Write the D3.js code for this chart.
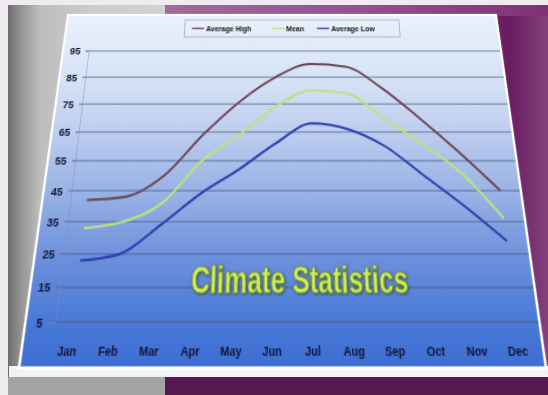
<!DOCTYPE html>
<html>
<head>
<meta charset="utf-8">
<script src="https://cdn.jsdelivr.net/npm/d3@7"></script>
<style>
  html, body { margin: 0; padding: 0; background: #efebf0; overflow: hidden; }
  #stage { position: relative; width: 548px; height: 395px; }
  #bg { position: absolute; left: 0; top: 0; }
  #panel { position: absolute; left: 0; top: 0; transform-origin: 0 0; overflow: visible; }
  text { font-family: "Liberation Sans", Arial, sans-serif; }
</style>
</head>
<body>
<div id="stage">
  <svg id="bg" width="548" height="395"></svg>
  <svg id="panel"></svg>
</div>
<script>
// ---- data ----
const months = ["Jan", "Feb", "Mar", "Apr", "May", "Jun", "Jul", "Aug", "Sep", "Oct", "Nov", "Dec"];
const avgHigh  = [42, 43, 50, 64, 76, 85, 90, 89, 81, 70, 58, 45];
const meanTemp = [33, 35, 41, 55, 64, 74, 80, 79, 70, 61, 51, 36];
const avgLow   = [23, 25, 34, 44, 52, 61, 68, 66, 60, 50, 40, 29];
const yTicks = [5, 15, 25, 35, 45, 55, 65, 75, 85, 95];
const seriesNames = ["Average High", "Mean", "Average Low"];
const chartTitle = "Climate Statistics";

// ---- styling ----
const seriesColors = ["#6b4957", "#bde27a", "#2c40b0"];
const series = [
  { name: seriesNames[0], values: avgHigh,  color: seriesColors[0] },
  { name: seriesNames[1], values: meanTemp, color: seriesColors[1] },
  { name: seriesNames[2], values: avgLow,   color: seriesColors[2] }
];

// ---- backdrop behind the tilted card ----
const bg = d3.select("#bg");
const bdefs = bg.append("defs");

const grayGrad = bdefs.append("linearGradient").attr("id", "grayGrad")
  .attr("x1", 0).attr("x2", 1).attr("y1", 0).attr("y2", 0);
[[0, "#6c6c6c"], [0.07, "#8e8e8e"], [0.2, "#bdbdbd"], [0.5, "#cbcbcb"], [1, "#d2d2d2"]]
  .forEach(([o, c]) => grayGrad.append("stop").attr("offset", o).attr("stop-color", c));

const purpleGrad = bdefs.append("linearGradient").attr("id", "purpleGrad")
  .attr("x1", 0).attr("x2", 1).attr("y1", 0).attr("y2", 0);
[[0, "#8a4583"], [0.8, "#74246a"], [0.9, "#6a1c61"], [1, "#83427d"]]
  .forEach(([o, c]) => purpleGrad.append("stop").attr("offset", o).attr("stop-color", c));

const stripGrad = bdefs.append("linearGradient").attr("id", "stripGrad")
  .attr("x1", 0).attr("x2", 1).attr("y1", 0).attr("y2", 0);
[[0, "#a26a9d"], [0.5, "#94528e"], [1, "#7e3275"]]
  .forEach(([o, c]) => stripGrad.append("stop").attr("offset", o).attr("stop-color", c));

bg.append("rect").attr("width", 548).attr("height", 395).attr("fill", "#efebf0");
bg.append("rect").attr("x", 165).attr("y", 5).attr("width", 383).attr("height", 390).attr("fill", "url(#purpleGrad)");
bg.append("rect").attr("x", 165).attr("y", 5).attr("width", 383).attr("height", 11).attr("fill", "url(#stripGrad)");
bg.append("rect").attr("x", 8).attr("y", 5).attr("width", 157).attr("height", 390).attr("fill", "url(#grayGrad)");
bg.append("rect").attr("x", 165).attr("y", 377).attr("width", 383).attr("height", 18).attr("fill", "#571850");
bg.append("rect").attr("x", 8).attr("y", 377).attr("width", 157).attr("height", 18).attr("fill", "#a4a4a4");
bg.append("rect").attr("x", 9).attr("y", 366).attr("width", 539).attr("height", 11).attr("fill", "#f3f3f6");

// ---- perspective card: flat drawing mapped onto a trapezoid ----
const W = 428, H = 284;
const quad = [[68, 15], [496, 15], [546, 368], [19, 368]];

function squareToQuad(q) {
  const [[x0, y0], [x1, y1], [x2, y2], [x3, y3]] = q;
  const dx1 = x1 - x2, dx2 = x3 - x2, dx3 = x0 - x1 + x2 - x3;
  const dy1 = y1 - y2, dy2 = y3 - y2, dy3 = y0 - y1 + y2 - y3;
  const den = dx1 * dy2 - dx2 * dy1;
  const g = (dx3 * dy2 - dx2 * dy3) / den;
  const h = (dx1 * dy3 - dx3 * dy1) / den;
  return [[x1 - x0 + g * x1, x3 - x0 + h * x3, x0],
          [y1 - y0 + g * y1, y3 - y0 + h * y3, y0],
          [g, h, 1]];
}
function inv3(m) {
  const [[a, b, c], [d, e, f], [g, h, i]] = m;
  const A = e * i - f * h, B = -(d * i - f * g), C = d * h - e * g;
  const D = -(b * i - c * h), E = a * i - c * g, F = -(a * h - b * g);
  const G = b * f - c * e, Hh = -(a * f - c * d), I = a * e - b * d;
  const det = a * A + b * B + c * C;
  return [[A / det, D / det, G / det], [B / det, E / det, Hh / det], [C / det, F / det, I / det]];
}
const M = squareToQuad(quad);
const Minv = inv3(M);
// page position -> flat card position
function toFlat(x, y) {
  const u = Minv[0][0] * x + Minv[0][1] * y + Minv[0][2];
  const v = Minv[1][0] * x + Minv[1][1] * y + Minv[1][2];
  const w = Minv[2][0] * x + Minv[2][1] * y + Minv[2][2];
  return [u / w * W, v / w * H];
}

const panel = d3.select("#panel").attr("width", W).attr("height", H);
panel.style("transform",
  `matrix3d(${M[0][0] / W},${M[1][0] / W},0,${M[2][0] / W},` +
  `${M[0][1] / H},${M[1][1] / H},0,${M[2][1] / H},` +
  `0,0,1,0,${M[0][2]},${M[1][2]},0,1)`);

const defs = panel.append("defs");
const cardGrad = defs.append("linearGradient").attr("id", "cardGrad")
  .attr("gradientUnits", "userSpaceOnUse").attr("x1", 0).attr("x2", 0).attr("y1", 0).attr("y2", H);
[[0, "#eaf1fb"], [0.2, "#d8e4f6"], [0.38, "#bdcdee"], [0.58, "#93aee4"], [0.73, "#6d90dc"], [0.88, "#4b7bd7"], [1, "#3c6dd2"]]
  .forEach(([o, c]) => cardGrad.append("stop").attr("offset", o).attr("stop-color", c));

const titleShadow = defs.append("filter").attr("id", "titleShadow")
  .attr("x", "-10%").attr("y", "-30%").attr("width", "120%").attr("height", "160%");
titleShadow.append("feDropShadow").attr("dx", 0.8).attr("dy", 0.8).attr("stdDeviation", 0.8)
  .attr("flood-color", "#2f3d18").attr("flood-opacity", 0.75);

panel.append("rect").attr("width", W).attr("height", H)
  .attr("fill", "url(#cardGrad)")
  .attr("stroke", "#ffffff").attr("stroke-width", 2.2);

// ---- scales ----
const yBottom = toFlat(0, 322)[1];
const yTop = toFlat(0, 51)[1];
const y = d3.scaleLinear().domain([5, 95]).range([yBottom, yTop]);
const x = d3.scalePoint().domain(months).range([0.093 * W, 0.957 * W]);
const axisX = 25;

// gridlines
panel.append("g").selectAll("line").data(yTicks).join("line")
  .attr("x1", axisX - 3).attr("x2", W - 1)
  .attr("y1", d => y(d)).attr("y2", d => y(d))
  .attr("stroke", "#4b5f8e").attr("stroke-opacity", 0.6).attr("stroke-width", 1.4);

// y axis
const yAxis = panel.append("g").attr("transform", `translate(${axisX},0)`)
  .call(d3.axisLeft(y).tickValues(yTicks).tickSize(3).tickPadding(4));
yAxis.select(".domain").attr("stroke", "#7c8fbb").attr("stroke-opacity", 0.6).attr("stroke-width", 0.8);
yAxis.selectAll(".tick line").attr("stroke", "#7c8fbb").attr("stroke-opacity", 0.6);
yAxis.selectAll(".tick text")
  .attr("text-anchor", "middle").attr("x", -13)
  .style("font-family", "'Liberation Sans', Arial, sans-serif")
  .style("font-size", "9.5px").style("font-weight", "bold").attr("fill", "#121232");

// x axis labels
const labelY = toFlat(0, 352)[1];
const xAxis = panel.append("g").attr("transform", `translate(0,${labelY - 4})`)
  .call(d3.axisBottom(x).tickSize(0).tickPadding(0));
xAxis.select(".domain").remove();
xAxis.selectAll(".tick text")
  .attr("dx", -3)
  .style("font-family", "'Liberation Sans', Arial, sans-serif")
  .style("font-size", "9px").style("font-weight", "bold").attr("fill", "#111133");

// series lines
const line = d3.line()
  .x((d, i) => x(months[i]))
  .y(d => y(d))
  .curve(d3.curveMonotoneX);
panel.append("g").selectAll("path").data(series).join("path")
  .attr("d", d => line(d.values))
  .attr("fill", "none")
  .attr("stroke", d => d.color)
  .attr("stroke-width", 2)
  .attr("stroke-linejoin", "round");

// legend
const legendTL = toFlat(185, 20), legendBR = toFlat(400, 37);
const legend = panel.append("g");
legend.append("rect")
  .attr("x", legendTL[0]).attr("y", legendTL[1])
  .attr("width", legendBR[0] - legendTL[0]).attr("height", legendBR[1] - legendTL[1])
  .attr("fill", "none").attr("stroke", "#8d96a8").attr("stroke-width", 0.6);
const legendStarts = [toFlat(192, 28)[0], toFlat(272, 28)[0], toFlat(317, 28)[0]];
const legendMid = (legendTL[1] + legendBR[1]) / 2;
const items = legend.selectAll("g.item").data(series).join("g").attr("class", "item")
  .attr("transform", (d, i) => `translate(${legendStarts[i]},${legendMid})`);
items.append("line").attr("x1", 0).attr("x2", 12).attr("y1", 0).attr("y2", 0)
  .attr("stroke", d => d.color).attr("stroke-width", 1.4);
items.append("text").attr("x", 14).attr("y", 2.5)
  .style("font-size", "7px").style("font-weight", "bold").attr("fill", "#111")
  .text(d => d.name);

// title
const titleL = toFlat(191, 280)[0], titleR = toFlat(408, 280)[0];
const titleBase = toFlat(0, 293)[1];
panel.append("text")
  .attr("x", titleL).attr("y", titleBase)
  .attr("textLength", titleR - titleL).attr("lengthAdjust", "spacingAndGlyphs")
  .style("font-size", "27px").style("font-weight", "bold")
  .attr("fill", "#d0ef5c").attr("stroke", "#6f9024").attr("stroke-width", 0.6)
  .attr("filter", "url(#titleShadow)")
  .text(chartTitle);
</script>
</body>
</html>
